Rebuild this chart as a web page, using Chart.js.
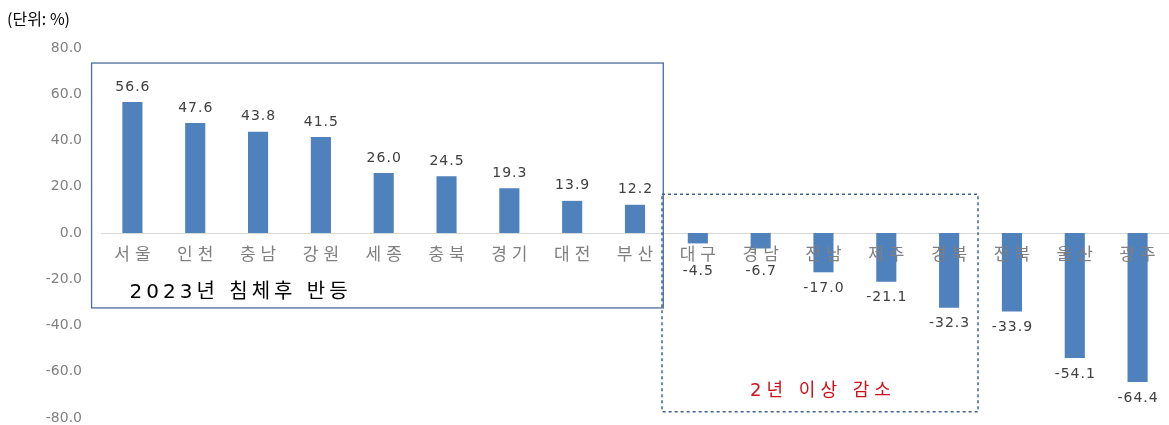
<!DOCTYPE html>
<html>
<head>
<meta charset="utf-8">
<script src="https://cdn.jsdelivr.net/npm/chart.js@4.4.0/dist/chart.umd.min.js"></script>
<style>
  html, body { margin: 0; padding: 0; background: #fff; overflow: hidden; }
</style>
</head>
<body>
<canvas id="regionChart" width="1169" height="425"></canvas>
<script>
const regions = ['서울','인천','충남','강원','세종','충북','경기','대전','부산','대구','경남','전남','제주','경북','전북','울산','광주'];
const changeRate = [56.6, 47.6, 43.8, 41.5, 26.0, 24.5, 19.3, 13.9, 12.2, -4.5, -6.7, -17.0, -21.1, -32.3, -33.9, -54.1, -64.4];
const yTicks = [-80, -60, -40, -20, 0, 20, 40, 60, 80];
const unitText = '(단위: %)';
const reboundText = '2023년 침체후 반등';
const declineText = '2년 이상 감소';

const numFont = '"DejaVu Sans", "Noto Sans CJK KR", sans-serif';
const krFont = '"Noto Sans CJK KR", sans-serif';

function spacedText(ctx, txt, x, y, spacing) {
  // centre text that has letter spacing (trailing gap removed)
  ctx.letterSpacing = spacing + 'px';
  const w = ctx.measureText(txt).width - spacing;
  const align = ctx.textAlign;
  ctx.textAlign = 'left';
  ctx.fillText(txt, x - w / 2, y);
  ctx.textAlign = align;
  ctx.letterSpacing = '0px';
}

// category labels, value labels, boxes
const overlay = {
  id: 'overlay',
  afterDatasetsDraw(chart) {
    const ctx = chart.ctx;
    const x = chart.scales.x, y = chart.scales.y;
    const zero = y.getPixelForValue(0);
    ctx.save();
    ctx.textBaseline = 'middle';

    // category labels at the zero line
    ctx.font = '17px ' + krFont;
    ctx.fillStyle = '#7f7f7f';
    regions.forEach((r, i) => spacedText(ctx, r, x.getPixelForValue(i), zero + 21, 5));

    ctx.font = '14px ' + numFont;
    ctx.fillStyle = '#404040';
    chart.getDatasetMeta(0).data.forEach((bar, i) => {
      const v = changeRate[i];
      let ly;
      if (v >= 0) ly = bar.y - 15;
      else ly = Math.max(bar.y + 16, zero + 38);
      spacedText(ctx, v.toFixed(1), bar.x, ly, 1);
    });

    // solid box
    const step = x.getPixelForValue(1) - x.getPixelForValue(0);
    ctx.strokeStyle = '#4a6b9c';
    ctx.lineWidth = 1.3;
    const l1 = x.getPixelForValue(0) - step * 0.65;
    const r1 = x.getPixelForValue(8) + step * 0.45;
    const t1 = y.getPixelForValue(73.5);
    const b1 = y.getPixelForValue(-32.4);
    ctx.strokeRect(l1, t1, r1 - l1, b1 - t1);
    ctx.fillStyle = '#000';
    ctx.font = '20px ' + numFont;
    spacedText(ctx, reboundText, l1 + 147, b1 - 15, 4);

    // dashed box
    ctx.setLineDash([3, 3]);
    ctx.strokeStyle = '#3f6290';
    ctx.lineWidth = 1.5;
    const l2 = x.getPixelForValue(9) - step * 0.57;
    const r2 = x.getPixelForValue(13) + step * 0.46;
    const t2 = y.getPixelForValue(16.8);
    const b2 = y.getPixelForValue(-77.3);
    ctx.strokeRect(l2, t2, r2 - l2, b2 - t2);
    ctx.setLineDash([]);
    ctx.fillStyle = '#d0101c';
    ctx.font = '18px ' + numFont;
    spacedText(ctx, declineText, x.getPixelForValue(11) - 3, b2 - 20, 5);

    // unit
    ctx.fillStyle = '#000';
    ctx.font = '16px ' + krFont;
    ctx.textAlign = 'left';
    ctx.fillText(unitText, 7, 19);
    ctx.restore();
  }
};

new Chart(document.getElementById('regionChart'), {
  type: 'bar',
  data: {
    labels: regions,
    datasets: [{
      data: changeRate,
      backgroundColor: '#4f81bd',
      borderWidth: 0,
      barPercentage: 0.32,
      categoryPercentage: 1.0
    }]
  },
  options: {
    responsive: false,
    animation: false,
    layout: { padding: { top: 48, right: 0, bottom: 7, left: 0 } },
    plugins: { legend: { display: false }, tooltip: { enabled: false } },
    scales: {
      x: {
        position: { y: 0 },
        afterFit(scale) { scale.height = 0; },
        grid: { display: false, drawTicks: false },
        border: { display: true, color: '#d9d9d9', width: 1 },
        ticks: { display: false }
      },
      y: {
        min: -80,
        max: 80,
        afterBuildTicks(scale) { scale.ticks = yTicks.map(v => ({ value: v })); },
        afterFit(scale) {
          scale.width = 101;
          scale.paddingTop = 0;
          scale.paddingBottom = 0;
        },
        grid: { display: false, drawTicks: false },
        border: { display: false },
        ticks: {
          color: '#808080',
          font: { size: 14, family: numFont },
          padding: 19,
          callback: v => Number(v).toFixed(1)
        }
      }
    }
  },
  plugins: [overlay]
});
</script>
</body>
</html>
